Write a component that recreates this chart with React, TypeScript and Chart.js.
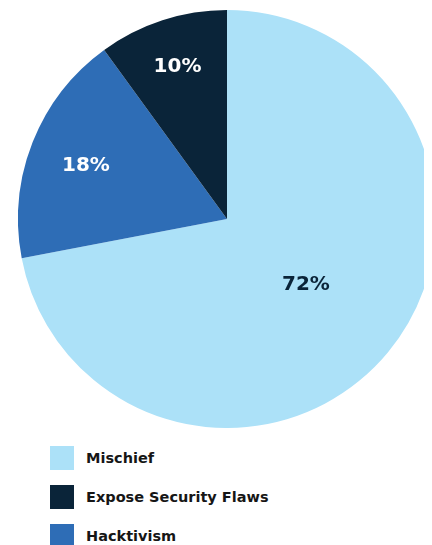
import React, { useEffect, useRef } from "react";
import { Chart, registerables } from "chart.js";

Chart.register(...registerables);

// Data (drawn clockwise from 12 o'clock)
const categories = ["Mischief", "Hacktivism", "Expose Security Flaws"];
const shares = [72, 18, 10];
// Legend order as shown under the chart
const legendOrder = ["Mischief", "Expose Security Flaws", "Hacktivism"];

const colorOf: Record<string, string> = {
  Mischief: "#ace1f8",
  Hacktivism: "#2e6db6",
  "Expose Security Flaws": "#0a2439",
};
const labelColorOf: Record<string, string> = {
  Mischief: "#0a2439",
  Hacktivism: "#ffffff",
  "Expose Security Flaws": "#ffffff",
};
// label placement: fraction of radius along slice bisector, plus small pixel nudge
const labelRadiusOf: Record<string, number> = {
  Mischief: 0.49,
  Hacktivism: 0.726,
  "Expose Security Flaws": 0.766,
};
const labelNudgeY: Record<string, number> = {
  Mischief: 0.5,
  Hacktivism: 3,
  "Expose Security Flaws": 0.5,
};

const FONT = "'DejaVu Sans', sans-serif";

const sliceLabels = {
  id: "sliceLabels",
  afterDatasetsDraw(chart: any) {
    const ctx = chart.ctx;
    const meta = chart.getDatasetMeta(0);
    const ds = chart.data.datasets[0];
    ctx.save();
    ctx.font = `bold 20px ${FONT}`;
    ctx.textAlign = "center";
    ctx.textBaseline = "middle";
    meta.data.forEach((arc: any, i: number) => {
      const p = arc.getProps(["x", "y", "startAngle", "endAngle", "outerRadius"], true);
      const name = chart.data.labels[i];
      const mid = (p.startAngle + p.endAngle) / 2;
      const r = p.outerRadius * labelRadiusOf[name];
      ctx.fillStyle = labelColorOf[name];
      ctx.fillText(
        `${ds.data[i]}%`,
        p.x + Math.cos(mid) * r,
        p.y + Math.sin(mid) * r + labelNudgeY[name]
      );
    });
    ctx.restore();
  },
};

export default function App() {
  const ref = useRef<HTMLCanvasElement | null>(null);

  useEffect(() => {
    if (!ref.current) return;
    const chart = new Chart(ref.current, {
      type: "pie",
      data: {
        labels: categories,
        datasets: [
          {
            data: shares,
            backgroundColor: categories.map((c) => colorOf[c]),
            borderWidth: 0,
            hoverOffset: 0,
            offset: 0,
          },
        ],
      },
      options: {
        animation: false,
        responsive: true,
        maintainAspectRatio: false,
        layout: { padding: 0 },
        plugins: {
          legend: { display: false },
          tooltip: { enabled: false },
        },
      },
      plugins: [sliceLabels],
    });
    return () => chart.destroy();
  }, []);

  return (
    <div style={{ position: "relative", width: 424, height: 537, overflow: "hidden" }}>
      <div style={{ position: "absolute", left: 10, top: 1.5, width: 418, height: 418 }}>
        <canvas ref={ref} />
      </div>
      <div style={{ position: "absolute", left: 42, top: 438 }}>
        {legendOrder.map((name) => (
          <div key={name} style={{ display: "flex", alignItems: "center", height: 24, marginBottom: 15 }}>
            <div style={{ width: 24, height: 24, background: colorOf[name] }} />
            <span
              style={{
                marginLeft: 12,
                font: `bold 14.5px ${FONT}`,
                lineHeight: "24px",
                color: "#161616",
                whiteSpace: "nowrap",
              }}
            >
              {name}
            </span>
          </div>
        ))}
      </div>
    </div>
  );
}
